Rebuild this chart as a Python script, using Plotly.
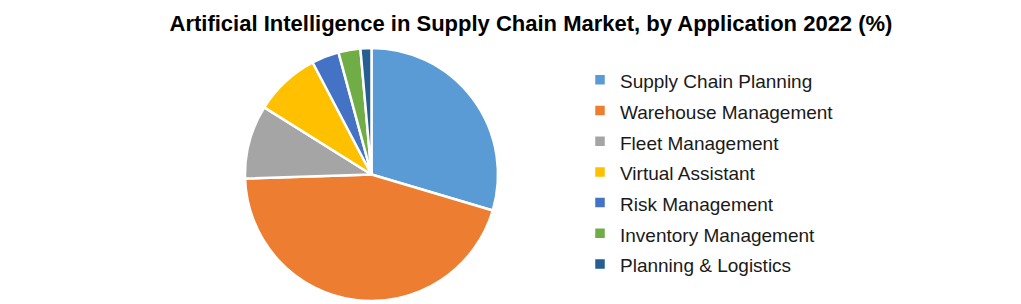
import plotly.graph_objects as go

categories = ["Supply Chain Planning", "Warehouse Management", "Fleet Management",
              "Virtual Assistant", "Risk Management", "Inventory Management",
              "Planning & Logistics"]
shares = [29.6, 44.9, 9.4, 8.4, 3.5, 2.8, 1.4]
colors = ["#5B9BD5", "#ED7D31", "#A5A5A5", "#FFC000", "#4472C4", "#70AD47", "#255E91"]

W, H = 1021, 304
cx, cy, r = 371.5, 174.5, 126.5

legend_labels = [f"<span style='font-size:19px'>{c}</span>" for c in categories]

fig = go.Figure(go.Pie(
    labels=legend_labels,
    values=shares,
    sort=False,
    direction="clockwise",
    rotation=0,
    textinfo="none",
    hoverinfo="label+percent",
    marker=dict(colors=colors, line=dict(color="white", width=2.5)),
    domain=dict(x=[(cx - r) / W, (cx + r) / W], y=[(H - cy - r) / H, (H - cy + r) / H]),
))

fig.update_layout(
    width=W, height=H,
    margin=dict(l=0, r=0, t=0, b=0),
    paper_bgcolor="white",
    plot_bgcolor="white",
    title=dict(
        text="<b>Artificial Intelligence in Supply Chain Market, by Application 2022 (%)</b>",
        x=531 / W, xanchor="center", y=1 - 23 / H, yanchor="middle",
        font=dict(family="Liberation Sans, Arial", size=22, color="black"),
    ),
    legend=dict(
        x=580 / W, xanchor="left", y=1 - 59.5 / H, yanchor="top",
        font=dict(family="Liberation Sans, Arial", size=21.3, color="#1a1a1a"),
        bgcolor="rgba(0,0,0,0)",
        itemwidth=30,
        tracegroupgap=0,
    ),
    showlegend=True,
)

fig.write_html("out.html")
